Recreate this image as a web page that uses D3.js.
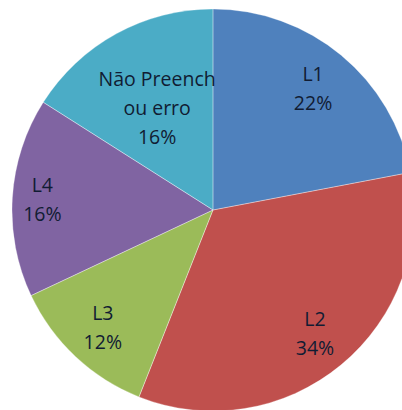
<!DOCTYPE html>
<html>
<head>
<meta charset="utf-8">
<script src="https://cdn.jsdelivr.net/npm/d3@7"></script>
<style>
  html, body { margin: 0; padding: 0; background: #fff; overflow: hidden; }
  svg { display: block; }
</style>
</head>
<body>
<div class="pie-chart"></div>
<script>
// slices, clockwise from 12 o'clock
var categories = ['L1', 'L2', 'L3', 'L4', 'Não Preench ou erro'];
var labelLines = [['L1'], ['L2'], ['L3'], ['L4'], ['Não Preench', 'ou erro']];
var percents = [22, 34, 12, 16, 16];
var colors = ['#4f81bd', '#c0504d', '#9bbb59', '#8064a2', '#4bacc6'];

// excel "best fit" pulls the long label in toward the middle
var labelRadius = [157, 160, 161, 171, 116];

var width = 402, height = 410;
var cx = 213, cy = 210, radius = 201;
var lineH = 29;

var svg = d3.select('.pie-chart').append('svg')
  .attr('width', width)
  .attr('height', height);

var g = svg.append('g').attr('transform', 'translate(' + cx + ',' + cy + ')');

var pie = d3.pie().sort(null).value(function (d) { return d; });
var arcs = pie(percents);

var arc = d3.arc().innerRadius(0).outerRadius(radius);

g.selectAll('path').data(arcs).enter().append('path')
  .attr('d', arc)
  .style('fill', function (d, i) { return colors[i]; })
  .style('stroke', 'none');

// thin light seams between slices
g.selectAll('path.seam').data(arcs).enter().append('path')
  .attr('class', 'seam')
  .attr('d', arc)
  .style('fill', 'none')
  .style('stroke', 'rgba(255,255,255,0.35)')
  .style('stroke-width', 0.8);

var labels = g.selectAll('text.lbl').data(arcs).enter().append('text')
  .attr('class', 'lbl')
  .attr('text-anchor', 'middle')
  .style('font-family', '"Open Sans", Lato, sans-serif')
  .style('font-size', '19.5px')
  .style('fill', '#111c33')
  .each(function (d, i) {
    var r = labelRadius[i];
    var la = d3.arc().innerRadius(r).outerRadius(r);
    var c = la.centroid(d);
    var lines = labelLines[i].concat([percents[i] + '%']);
    var top = c[1] - (lines.length - 1) * lineH / 2;
    var t = d3.select(this);
    lines.forEach(function (s, k) {
      t.append('tspan')
        .attr('x', c[0])
        .attr('y', top + k * lineH)
        .attr('dy', '0.35em')
        .text(s);
    });
  });
</script>
</body>
</html>
